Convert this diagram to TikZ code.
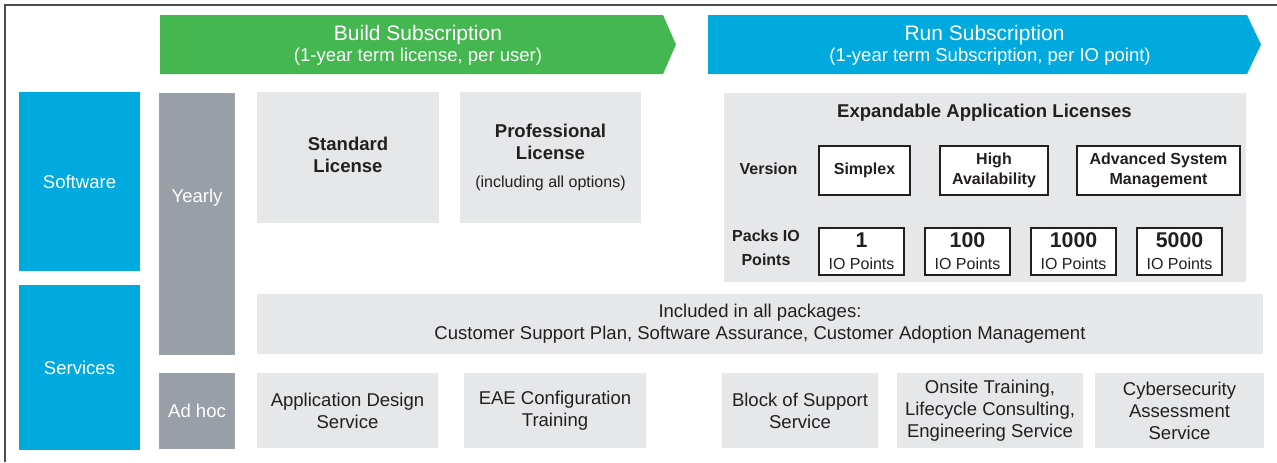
\documentclass[tikz,border=0pt]{standalone}
\usepackage{fontspec}
\setmainfont{Liberation Sans}
\usepackage{tikz}
\definecolor{sgreen}{HTML}{44B750}
\definecolor{sblue}{HTML}{00A9DE}
\definecolor{sgray}{HTML}{989FA6}
\definecolor{slight}{HTML}{E6E7E8}
\definecolor{sink}{HTML}{231F20}
\definecolor{sframe}{HTML}{4D4D4D}
\tikzset{wh/.style 2 args={minimum width=#1*.75pt, minimum height=#2*.75pt}}
\tikzstyle{tile}=[fill=slight, text=sink, align=center, inner sep=0pt, font=\fontsize{13.9}{16.5}\selectfont]
\tikzstyle{side}=[fill=sblue, text=white, inner sep=0pt, font=\fontsize{13.9}{16.5}\selectfont]
\tikzstyle{term}=[fill=sgray, text=white, inner sep=0pt, font=\fontsize{13.9}{16.5}\selectfont]
\tikzstyle{head}=[text=white, inner sep=0pt, font=\fontsize{15.75}{18}\selectfont]
\tikzstyle{opt}=[fill=white, draw=sink, line width=.8pt, text=sink, align=center, inner sep=0pt, font=\bfseries\fontsize{12}{15.5}\selectfont]
\tikzstyle{pack}=[opt, font=\fontsize{12}{16.5}\selectfont]
\tikzstyle{lbl}=[text=sink, align=center, inner sep=0pt, font=\bfseries\fontsize{12}{18}\selectfont]

\begin{document}
\begin{tikzpicture}[x=.75pt, y=-.75pt]
\useasboundingbox (0,0) rectangle (1277,462);
\draw[sframe, line width=1.5pt] (4.5,462) -- (4.5,4.5) -- (1277,4.5);
\fill[sgreen] (160,15) -- (663,15) -- (676,44.5) -- (663,74) -- (160,74) -- cycle;
\fill[sblue] (708,15) -- (1247,15) -- (1261,44.5) -- (1247,74) -- (708,74) -- cycle;
\node[head] (build) at (418,35) {Build Subscription};
\node[head, font=\fontsize{13.9}{16.5}\selectfont] (buildsub) at (418,57) {(1-year term license, per user)};
\node[head] (run) at (984.5,35) {Run Subscription};
\node[head, font=\fontsize{13.9}{16.5}\selectfont] (runsub) at (990,57) {(1-year term Subscription, per IO point)};

\node[side, wh={121}{179}] (sw) at (79.5,181.5) {Software};
\node[side, wh={121}{165}] (sv) at (79.5,367.5) {Services};
\node[term, wh={76}{262}] (yearly) at (197,224) {};
\node[term, fill=none] (yearlytxt) at (197,198) {Yearly};
\node[term, wh={76}{76}] (adhoc) at (197,410.5) {Ad hoc};

\node[tile, wh={182}{131}] (std) at (348,157.5) {\textbf{Standard}\\\textbf{License}\\[-12pt]~};
\node[tile, wh={181}{131}] (pro) at (550.5,157.5) {\textbf{Professional}\\\textbf{License}\\[5pt]{\fontsize{12}{14}\selectfont(including all options)}};

\node[tile, wh={522}{189}] (exp) at (985,187.5) {};
\node[lbl, font=\bfseries\fontsize{13.9}{16.5}\selectfont] (exptitle) at (984.5,113) {Expandable Application Licenses};
\node[lbl] (ver) at (768.5,169) {Version};
\node[lbl] (packs) at (766,248) {Packs IO\\Points};
\node[opt, wh={91}{49}] (simplex) at (864.5,170.5) {Simplex};
\node[opt, wh={108}{49}] (ha) at (994,170.5) {High\\Availability};
\node[opt, wh={163}{49}] (asm) at (1158.5,170.5) {Advanced System\\Management};
\foreach \n [count=\i from 0] in {1,100,1000,5000}
  \node[pack, wh={85}{47}] (io\n) at (861.5+106*\i,251.5) {{\bfseries\fontsize{16}{16.5}\selectfont\n}\\IO Points};

\node[tile, wh={1006}{60}] (incl) at (760,324) {Included in all packages:\\Customer Support Plan, Software Assurance, Customer Adoption Management};

\node[tile, wh={181}{75}] (ads) at (347.5,410.5) {Application Design\\Service};
\node[tile, wh={182}{75}] (eae) at (555,410.5) {EAE Configuration\\Training};
\node[tile, wh={156}{75}] (bos) at (800,410.5) {Block of Support\\Service};
\node[tile, wh={186}{75}] (ons) at (990,410.5) {Onsite Training,\\Lifecycle Consulting,\\Engineering Service};
\node[tile, wh={169}{75}] (cyb) at (1179.5,410.5) {Cybersecurity\\Assessment\\Service};
\end{tikzpicture}
\end{document}
